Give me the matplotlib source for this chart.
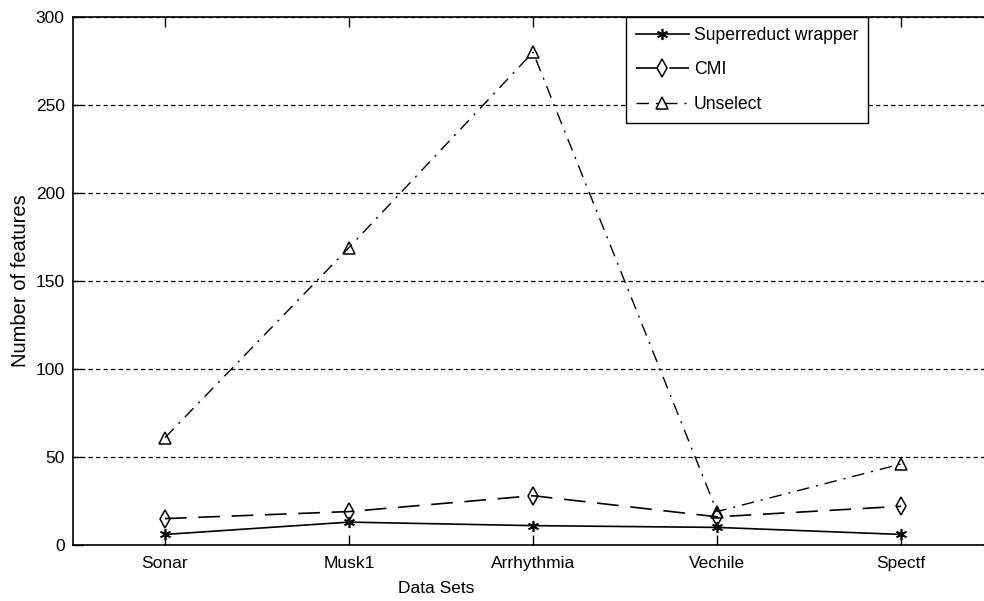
import matplotlib
matplotlib.use('Agg')
from matplotlib import pyplot as plt

datasets    = ['Sonar', 'Musk1', 'Arrhythmia', 'Vechile', 'Spectf']
superreduct = [6, 13, 11, 10, 6]
cmi         = [15, 19, 28, 16, 22]
unselect    = [61, 169, 280, 19, 46]
yticks      = [0, 50, 100, 150, 200, 250, 300]

plt.rcParams['font.family'] = ['Liberation Sans', 'DejaVu Sans']

W, H = 984, 601
fig = plt.figure(figsize=(W / 100, H / 100), dpi=100)
# axes runs past the right edge of the picture, like the cropped original
ax = fig.add_axes([73 / W, 56 / H, 920 / W, 528 / H])

x = list(range(1, len(datasets) + 1))

ax.plot(x, superreduct, color='black', lw=1.2, linestyle='-',
        marker=(6, 2, 0), markersize=8, markeredgewidth=1.2,
        label='Superreduct wrapper')
ax.plot(x, cmi, color='black', lw=1.2, linestyle=(0, (13, 7)),
        marker='d', markersize=9, markerfacecolor='none', markeredgewidth=1.1,
        label='CMI')
ax.plot(x, unselect, color='black', lw=1.0, linestyle=(0, (9, 5, 1.5, 5)),
        marker='^', markersize=9, markerfacecolor='none', markeredgewidth=1.1,
        label='Unselect')

ax.set_xlim(0.5, 5.5)
ax.set_ylim(0, 300)
ax.set_xticks(x)
ax.set_xticklabels(datasets)
ax.set_yticks(yticks)

ax.yaxis.grid(True, color='black', linestyle=(0, (3.5, 2.5)), lw=0.9)
ax.xaxis.grid(False)
ax.set_axisbelow(True)

ax.tick_params(direction='in', length=7, width=1, labelsize=12.5, colors='black',
               top=True, right=True)
ax.tick_params(axis='x', pad=8)
ax.tick_params(axis='y', pad=6)
for s in ax.spines.values():
    s.set_linewidth(1.2)

ax.set_xlabel('Data Sets', fontsize=12.5)
ax.xaxis.set_label_coords((436 - 73) / 920, -36 / 528)
ax.set_ylabel('Number of features', fontsize=14.5)
ax.yaxis.set_label_coords((30 - 73) / 920, 0.5)

leg = fig.legend(loc='upper left', bbox_to_anchor=(626 / W, 1 - 17 / H),
                 fontsize=12.7, handlelength=3.0, handletextpad=0.3,
                 labelspacing=1.0, borderpad=0.55, borderaxespad=0,
                 fancybox=False, framealpha=1, edgecolor='black')
leg.get_frame().set_linewidth(1.0)

fig.savefig('out.png', dpi=100)
